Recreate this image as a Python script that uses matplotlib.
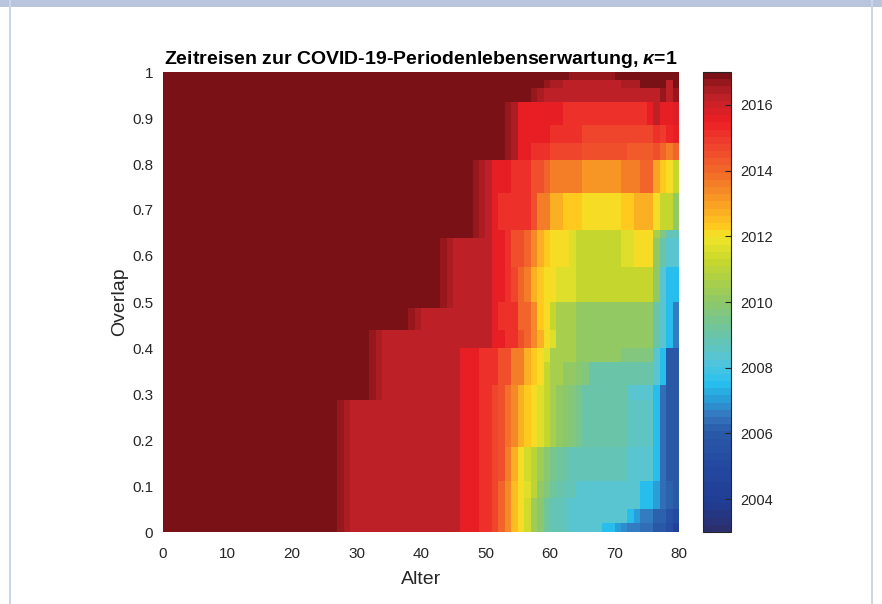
import numpy as np
import matplotlib
matplotlib.use("Agg")
import matplotlib.pyplot as plt
from matplotlib.colors import LinearSegmentedColormap
from matplotlib.patches import Rectangle
from matplotlib.ticker import FormatStrFormatter

plt.rcParams['font.family'] = ['Liberation Sans', 'DejaVu Sans']
plt.rcParams['mathtext.fontset'] = 'custom'
plt.rcParams['mathtext.it'] = 'Liberation Sans:italic:bold'

# age cells 0..80 (one column per year)
age_edges = np.arange(0, 81)

# overlap bands (bottom -> top)
overlap_edges = [0, 0.02, 0.05, 0.075, 0.11, 0.185, 0.287, 0.32, 0.37, 0.40, 0.44,
                 0.487, 0.50, 0.577, 0.64, 0.657, 0.736, 0.808, 0.845, 0.885,
                 0.935, 0.965, 0.982, 1.0]

# each band: (first age, year) runs, value holds until the next run starts
band_runs = [
    [(0, 2017), (26, 2016.8), (27, 2016.6), (28, 2016.45), (29, 2016.25), (46, 2015.6), (49, 2015.1),
     (51, 2014.6), (52, 2014.0), (53, 2013.3), (54, 2012.6), (55, 2012.0), (56, 2011.4), (57, 2010.4),
     (58, 2009.8), (59, 2009.2), (60, 2008.9), (61, 2008.7), (62, 2008.5), (63, 2008.3), (68, 2007.5),
     (70, 2007.1), (71, 2006.8), (72, 2006.6), (74, 2006.3), (76, 2006.0), (78, 2005.2), (79, 2004.3)],
    [(0, 2017), (26, 2016.8), (27, 2016.6), (28, 2016.45), (29, 2016.25), (46, 2015.6), (49, 2015.1),
     (51, 2014.6), (52, 2014.0), (53, 2013.3), (54, 2012.6), (55, 2012.0), (56, 2011.4), (57, 2010.4),
     (58, 2009.8), (59, 2009.2), (60, 2008.9), (61, 2008.7), (62, 2008.5), (63, 2008.3), (72, 2007.5),
     (73, 2007.0), (74, 2006.6), (76, 2006.2), (78, 2005.6), (79, 2005.0)],
    [(0, 2017), (26, 2016.8), (27, 2016.6), (28, 2016.45), (29, 2016.25), (46, 2015.6), (49, 2015.1),
     (51, 2014.6), (52, 2014.0), (53, 2013.3), (54, 2012.6), (55, 2012.0), (56, 2011.4), (57, 2010.4),
     (58, 2009.8), (59, 2009.2), (60, 2008.9), (61, 2008.7), (62, 2008.5), (63, 2008.3), (74, 2007.5),
     (76, 2007.0), (77, 2006.4), (78, 2006.2), (79, 2006.0)],
    [(0, 2017), (26, 2016.8), (27, 2016.6), (28, 2016.45), (29, 2016.25), (46, 2015.6), (49, 2015.1),
     (51, 2014.6), (52, 2014.0), (53, 2013.3), (54, 2012.6), (55, 2012.0), (56, 2011.7), (57, 2011.0),
     (58, 2010.2), (59, 2009.7), (60, 2009.3), (61, 2009.0), (62, 2008.8), (64, 2008.3), (74, 2007.5),
     (76, 2007.0), (77, 2006.4), (78, 2006.2), (79, 2006.0)],
    [(0, 2017), (26, 2016.8), (27, 2016.6), (28, 2016.45), (29, 2016.25), (46, 2015.6), (49, 2015.1),
     (51, 2014.8), (52, 2014.4), (53, 2013.5), (54, 2012.7), (55, 2012.0), (56, 2011.5), (57, 2010.9),
     (58, 2010.3), (59, 2009.8), (60, 2009.5), (61, 2009.3), (62, 2009.1), (63, 2008.9), (65, 2008.7),
     (72, 2008.3), (76, 2007.5), (77, 2006.4), (78, 2006.0)],
    [(0, 2017), (26, 2016.8), (27, 2016.6), (28, 2016.45), (29, 2016.25), (46, 2015.6), (49, 2015.1),
     (51, 2014.8), (52, 2014.4), (53, 2013.9), (54, 2013.4), (55, 2012.8), (56, 2012.35), (57, 2012.0),
     (58, 2011.6), (59, 2011.2), (60, 2010.6), (61, 2010.2), (62, 2009.8), (63, 2009.6), (64, 2009.4),
     (65, 2009.1), (72, 2008.5), (76, 2007.5), (77, 2006.4), (78, 2006.0)],
    [(0, 2017), (31, 2016.8), (32, 2016.6), (33, 2016.45), (34, 2016.25), (46, 2015.6), (49, 2015.1),
     (51, 2014.8), (52, 2014.4), (53, 2013.9), (54, 2013.4), (55, 2012.8), (56, 2012.35), (57, 2012.0),
     (58, 2011.6), (59, 2011.2), (60, 2010.6), (61, 2010.2), (62, 2009.8), (63, 2009.6), (64, 2009.4),
     (65, 2009.1), (72, 2008.4), (76, 2007.5), (77, 2006.4), (78, 2006.0)],
    [(0, 2017), (31, 2016.8), (32, 2016.6), (33, 2016.45), (34, 2016.25), (46, 2015.6), (49, 2015.1),
     (52, 2014.4), (54, 2013.5), (56, 2012.7), (57, 2012.35), (58, 2012.0), (59, 2011.3), (60, 2010.6),
     (62, 2010.2), (64, 2009.9), (65, 2009.6), (66, 2009.1), (76, 2008.3), (77, 2007.5), (78, 2006.0)],
    [(0, 2017), (31, 2016.8), (32, 2016.6), (33, 2016.45), (34, 2016.25), (46, 2015.6), (49, 2015.1),
     (52, 2014.4), (54, 2013.5), (56, 2012.7), (57, 2012.35), (58, 2012.0), (59, 2011.6), (60, 2010.6),
     (64, 2010.05), (71, 2009.6), (76, 2008.3), (77, 2007.5), (78, 2006.0)],
    [(0, 2017), (31, 2016.8), (32, 2016.6), (33, 2016.45), (34, 2016.25), (51, 2015.6), (53, 2015.1),
     (55, 2014.4), (56, 2014.0), (57, 2013.3), (58, 2012.7), (59, 2012.0), (60, 2011.7), (61, 2010.6),
     (64, 2010.05), (76, 2009.1), (77, 2008.3), (78, 2007.5), (79, 2006.7)],
    [(0, 2017), (37, 2016.8), (38, 2016.6), (39, 2016.45), (40, 2016.25), (51, 2015.6), (52, 2015.1),
     (55, 2014.0), (57, 2013.3), (58, 2012.35), (59, 2012.0), (60, 2011.3), (61, 2010.6), (64, 2010.05),
     (76, 2009.1), (77, 2008.3), (78, 2007.5), (79, 2006.7)],
    [(0, 2017), (42, 2016.8), (43, 2016.6), (44, 2016.45), (45, 2016.25), (51, 2015.6), (52, 2015.1),
     (55, 2014.0), (57, 2013.3), (58, 2012.35), (59, 2012.0), (60, 2011.3), (61, 2010.6), (64, 2010.05),
     (76, 2009.1), (77, 2008.3), (78, 2007.5), (79, 2006.7)],
    [(0, 2017), (42, 2016.8), (43, 2016.6), (44, 2016.45), (45, 2016.25), (51, 2015.6), (53, 2015.1),
     (54, 2014.8), (55, 2014.0), (56, 2013.5), (57, 2012.7), (58, 2012.35), (59, 2012.0), (61, 2011.7),
     (64, 2011.3), (76, 2010.0), (77, 2008.3), (78, 2007.5)],
    [(0, 2017), (42, 2016.8), (43, 2016.6), (44, 2016.45), (45, 2016.25), (51, 2015.6), (53, 2015.1),
     (54, 2014.4), (56, 2014.0), (57, 2013.3), (58, 2012.7), (59, 2012.35), (60, 2012.0), (63, 2011.7),
     (64, 2011.3), (71, 2011.7), (73, 2012.0), (76, 2010.05), (77, 2009.1), (78, 2008.3)],
    [(0, 2017), (47, 2016.8), (48, 2016.6), (49, 2016.45), (50, 2016.25), (51, 2015.6), (53, 2015.1),
     (54, 2014.4), (56, 2014.0), (57, 2013.3), (58, 2012.7), (59, 2012.35), (60, 2012.0), (63, 2011.7),
     (64, 2011.3), (71, 2011.7), (73, 2012.0), (76, 2010.6), (77, 2009.6), (78, 2008.8)],
    [(0, 2017), (47, 2016.8), (48, 2016.6), (49, 2016.45), (50, 2016.25), (51, 2015.6), (52, 2015.1),
     (57, 2014.4), (58, 2013.5), (60, 2012.7), (62, 2012.35), (65, 2012.0), (71, 2012.35), (73, 2012.7),
     (76, 2012.0), (77, 2011.3), (79, 2010.2)],
    [(0, 2017), (47, 2016.8), (48, 2016.6), (49, 2016.45), (50, 2016.25), (51, 2015.6), (54, 2015.1),
     (57, 2014.4), (59, 2014.0), (60, 2013.5), (65, 2013.1), (71, 2013.5), (74, 2014.0), (76, 2013.0),
     (77, 2012.4), (78, 2012.0), (79, 2011.3)],
    [(0, 2017), (52, 2016.8), (53, 2016.6), (54, 2016.45), (55, 2015.6), (57, 2015.1), (60, 2014.8),
     (63, 2014.6), (65, 2014.4), (72, 2014.2), (76, 2014.4), (77, 2014.0), (78, 2013.5), (79, 2014.0)],
    [(0, 2017), (52, 2016.8), (53, 2016.6), (54, 2016.45), (55, 2015.6), (60, 2015.1), (65, 2014.6),
     (72, 2014.8), (76, 2015.2), (77, 2015.0), (78, 2015.3), (79, 2015.6)],
    [(0, 2017), (52, 2016.8), (53, 2016.6), (54, 2016.45), (55, 2015.6), (62, 2015.2), (72, 2015.1),
     (75, 2015.6), (76, 2016.25), (77, 2015.6), (79, 2015.9)],
    [(0, 2017), (56, 2016.8), (57, 2016.6), (58, 2016.45), (59, 2016.25), (77, 2016.6), (78, 2016.25),
     (79, 2016.6)],
    [(0, 2017), (58, 2016.8), (59, 2016.6), (60, 2016.45), (62, 2016.3), (71, 2016.45), (74, 2016.8),
     (78, 2016.3), (79, 2016.8)],
    [(0, 2017), (62, 2016.8), (63, 2016.6), (70, 2016.8), (71, 2017)],
]

year_min, year_max = 2003, 2017
cbar_ticks = [2004, 2006, 2008, 2010, 2012, 2014, 2016]

# colour map
cmap_years = [2003.0, 2003.8, 2005.0, 2006.0, 2006.5, 2007.0, 2007.5, 2008.2, 2009.0, 2010.0,
              2010.6, 2011.3, 2012.0, 2012.3, 2013.0, 2014.0, 2015.0, 2015.6, 2016.3, 2016.7, 2017.0]
cmap_colors = ['#2B2F6E', '#213D94', '#2449A0', '#2A5AA8', '#3478BE', '#2A9ED8', '#27C1EF',
               '#56C5D9', '#69C4A8', '#8EC868', '#A9CF4A', '#C9D82C', '#F1E52A', '#FFCC1D',
               '#F9A224', '#F26A2A', '#EF3A2E', '#EC1E25', '#C12128', '#A01A20', '#7A1116']
pos = [(y - year_min) / (year_max - year_min) for y in cmap_years]
cmap = LinearSegmentedColormap.from_list('zeit', list(zip(pos, cmap_colors)), N=64)

# build the grid
Z = np.empty((len(band_runs), 80))
for i, runs in enumerate(band_runs):
    for k, (a, v) in enumerate(runs):
        a_end = runs[k + 1][0] if k + 1 < len(runs) else 80
        Z[i, a:a_end] = v

W, H = 882, 604
fig = plt.figure(figsize=(W / 100, H / 100), dpi=100)
fig.patch.set_facecolor('white')

ax = fig.add_axes([163 / W, (H - 532) / H, 516 / W, 460 / H])
mesh = ax.pcolormesh(age_edges, overlap_edges, Z, cmap=cmap, vmin=year_min, vmax=year_max,
                     shading='flat')
ax.set_xlim(0, 80)
ax.set_ylim(0, 1)
ax.set_xticks(np.arange(0, 81, 10))
ax.set_yticks(np.arange(0, 1.01, 0.1))
ax.yaxis.set_major_formatter(FormatStrFormatter('%g'))
for s in ax.spines.values():
    s.set_visible(False)
ax.tick_params(length=0, labelsize=11, colors='#262626')
ax.tick_params(axis='x', pad=11)
ax.tick_params(axis='y', pad=7)
ax.set_xlabel('Alter', fontsize=14, color='#262626', labelpad=7)
ax.set_ylabel('Overlap', fontsize=14, color='#262626', labelpad=3)
ax.set_title(r'Zeitreisen zur COVID-19-Periodenlebenserwartung, $\kappa$=1',
             fontsize=14, fontweight='bold', pad=6)

cax = fig.add_axes([703 / W, (H - 532) / H, 28 / W, 460 / H])
cb = fig.colorbar(mesh, cax=cax, ticks=cbar_ticks)
cb.outline.set_linewidth(0.8)
cb.outline.set_edgecolor('#262626')
cax.tick_params(direction='in', length=4, width=0.8, labelsize=10.5, colors='#262626', pad=7)

# page frame around the figure
fig.add_artist(Rectangle((0, (H - 7) / H), 1, 7 / H, transform=fig.transFigure,
                         facecolor='#B9C5DD', edgecolor='none'))
fig.add_artist(Rectangle((9 / W, 0), 2 / W, 1, transform=fig.transFigure,
                         facecolor='#CBD4E8', edgecolor='none'))
fig.add_artist(Rectangle((871 / W, 0), 2 / W, 1, transform=fig.transFigure,
                         facecolor='#CBD4E8', edgecolor='none'))

fig.savefig('out.png', dpi=100)
